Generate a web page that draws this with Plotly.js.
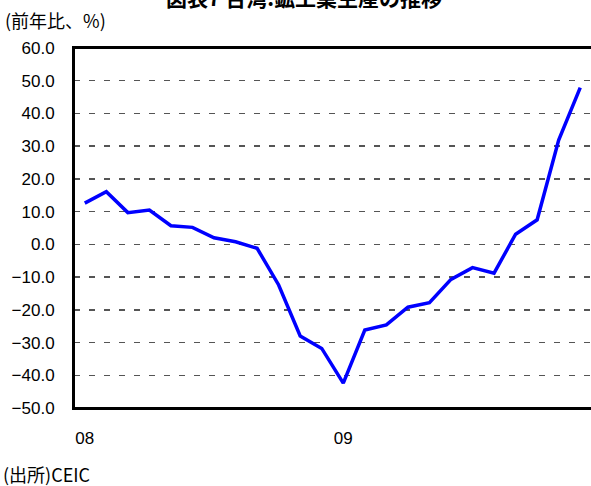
<!DOCTYPE html>
<html>
<head>
<meta charset="utf-8">
<script src="https://cdn.plot.ly/plotly-3.0.1.min.js"></script>
<style>
  html, body { margin: 0; padding: 0; background: #fff; }
  #chart { width: 591px; height: 486px; }
</style>
</head>
<body>
<div id="chart"></div>
<script>
// 台湾 鉱工業生産 前年比(%) 2008/01 - 2009/12
const months = [0,1,2,3,4,5,6,7,8,9,10,11,12,13,14,15,16,17,18,19,20,21,22,23];
const yoy = [12.6, 16.1, 9.7, 10.5, 5.7, 5.2, 2.0, 0.8, -1.2, -12.4, -28.0, -31.8,
             -42.4, -26.2, -24.6, -19.2, -17.8, -10.7, -7.1, -8.8, 3.1, 7.5, 31.9, 47.9];
const yearTickVals = [0, 12];
const yearTickText = ["08", "09"];
const yearBoundary = [11.5];

const font = "Liberation Sans, Arial, sans-serif";
const cjk = "Noto Sans CJK JP, sans-serif";

Plotly.newPlot("chart", [{
    x: months, y: yoy,
    type: "scatter", mode: "lines",
    line: { color: "#0000ff", width: 3.5 },
    hoverinfo: "x+y"
}], {
    width: 591, height: 486,
    paper_bgcolor: "#fff", plot_bgcolor: "#fff",
    margin: { l: 74, r: 0, t: 48, b: 78 },
    showlegend: false,
    font: { family: font, size: 17, color: "#000" },
    xaxis: {
        range: [-0.5, 23.5],
        tickvals: yearTickVals, ticktext: yearTickText,
        ticks: "", ticklabelstandoff: 14,
        showgrid: false, zeroline: false,
        showline: true, linecolor: "#000", linewidth: 2, mirror: true,
        tickfont: { family: font, size: 17 }
    },
    xaxis2: {
        overlaying: "x", anchor: "free", position: 50 / 110,
        range: [-0.5, 23.5],
        tickvals: yearBoundary, ticks: "inside", ticklen: 7, tickwidth: 1.3, tickcolor: "#000",
        minor: { tick0: 0.5, dtick: 1, ticks: "inside", ticklen: 4, tickwidth: 1.3, tickcolor: "#000" },
        showticklabels: false, showgrid: false, zeroline: false,
        showline: true, linecolor: "#000", linewidth: 2
    },
    yaxis: {
        range: [-50, 60], dtick: 10, tick0: 0, tickformat: ".1f",
        ticks: "", ticklabelstandoff: 14,
        showgrid: true, gridcolor: "#555", gridwidth: 1.5, griddash: "6px,9px",
        zeroline: false,
        showline: true, linecolor: "#000", linewidth: 2,
        tickfont: { family: font, size: 17 }
    },
    shapes: [
        { type: "line", xref: "paper", yref: "paper", x0: 0, x1: 0, y0: 0, y1: 1,
          line: { color: "#000", width: 2 }, layer: "above" },
        { type: "line", xref: "paper", yref: "paper", x0: 0, x1: 1, y0: 0, y1: 0,
          line: { color: "#000", width: 2 }, layer: "above" },
        { type: "line", xref: "paper", yref: "paper", x0: 0, x1: 1, y0: 1, y1: 1,
          line: { color: "#000", width: 2 }, layer: "above" }
    ],
    annotations: [
        {
            text: "<b>図表7 台湾:鉱工業生産の推移</b>", xref: "paper", yref: "paper",
            x: 230 / 517, y: 1 + 51 / 360, xanchor: "center", yanchor: "middle",
            showarrow: false, font: { family: cjk, size: 21, color: "#000" }
        },
        {
            text: "(前年比、%)", xref: "paper", yref: "paper",
            x: -71 / 517, y: 1 + 28 / 360, xanchor: "left", yanchor: "middle",
            showarrow: false, font: { family: cjk, size: 18, color: "#000" }
        },
        {
            text: "(出所)CEIC", xref: "paper", yref: "paper",
            x: -73 / 517, y: -66 / 360, xanchor: "left", yanchor: "middle",
            showarrow: false, font: { family: cjk, size: 18, color: "#000" }
        }
    ]
}, { displayModeBar: false, staticPlot: true });
</script>
</body>
</html>
